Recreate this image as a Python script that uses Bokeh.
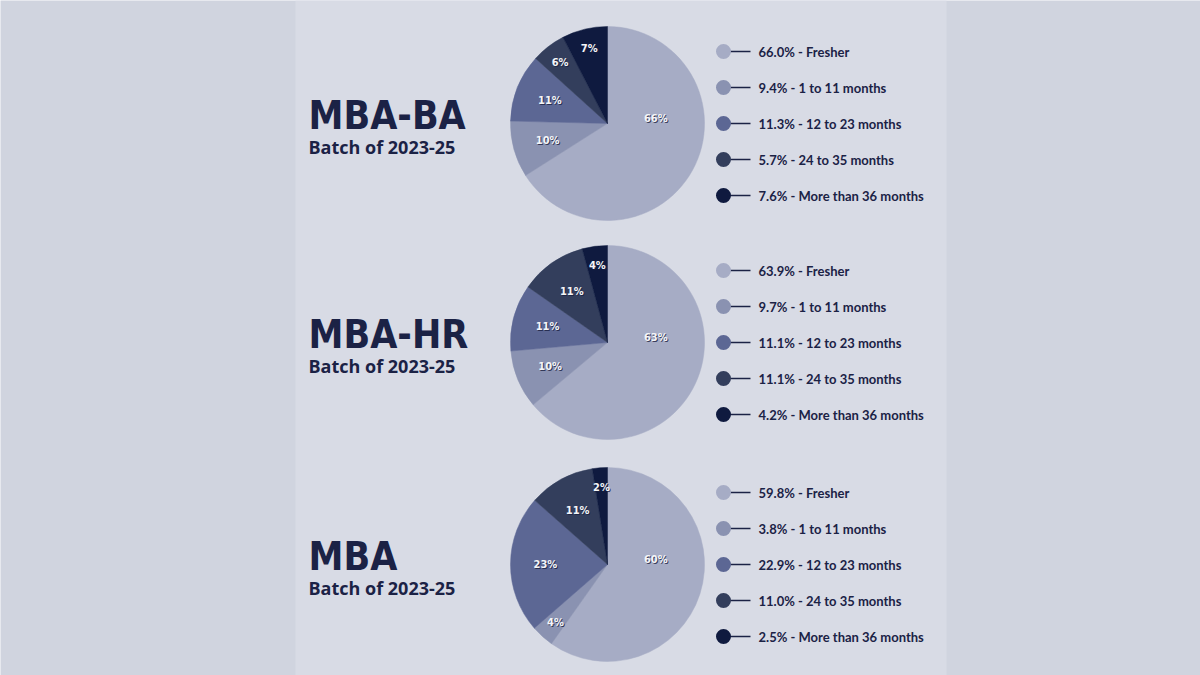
import math
from bokeh.plotting import figure
from bokeh.models import Range1d, ColumnDataSource
from bokeh.core.properties import value
from bokeh.embed import file_html
from bokeh.resources import INLINE

# ---------------- data ----------------
programs = ["MBA-BA", "MBA-HR", "MBA"]
subtitle = "Batch of 2023-25"
categories = ["Fresher", "1 to 11 months", "12 to 23 months", "24 to 35 months", "More than 36 months"]
mba_ba = [66.0, 9.4, 11.3, 5.7, 7.6]
mba_hr = [63.9, 9.7, 11.1, 11.1, 4.2]
mba = [59.8, 3.8, 22.9, 11.0, 2.5]
mba_ba_labels = ["66%", "10%", "11%", "6%", "7%"]
mba_hr_labels = ["63%", "10%", "11%", "11%", "4%"]
mba_labels = ["60%", "4%", "23%", "11%", "2%"]

series = [mba_ba, mba_hr, mba]
series_labels = [mba_ba_labels, mba_hr_labels, mba_labels]

# ---------------- style ----------------
slice_colors = ["#a6acc5", "#8a92b1", "#5c6794", "#333e5c", "#0f1a3f"]
ink = "#1b2245"
outer_bg = "#d0d4df"
panel_bg = "#d8dbe5"

W, H = 1200, 675
p = figure(width=W, height=H, output_backend="svg", toolbar_location=None,
           x_range=Range1d(0, W), y_range=Range1d(0, H),
           min_border=0, tools="")
p.axis.visible = False
p.grid.visible = False
p.outline_line_color = None
p.background_fill_color = outer_bg
p.border_fill_color = outer_bg


def Y(y_screen):
    # convert page y (downward) to data y (upward)
    return H - y_screen


# light central panel
p.quad(left=[295], right=[946], bottom=[Y(675)], top=[Y(0)],
       fill_color=panel_bg, line_color=None)

pie_cx = 607
pie_cys = [123, 342, 564]
R = 97

title_font = "DejaVu Sans Condensed"

for k, (vals, labs) in enumerate(zip(series, series_labels)):
    cy = pie_cys[k]
    total = sum(vals)
    fr = [v / total for v in vals]
    cum = [0.0]
    for f in fr:
        cum.append(cum[-1] + f)
    starts = [math.pi / 2 - 2 * math.pi * cum[i + 1] for i in range(len(fr))]
    ends = [math.pi / 2 - 2 * math.pi * cum[i] for i in range(len(fr))]
    src = ColumnDataSource(dict(x=[pie_cx] * len(fr), y=[Y(cy)] * len(fr),
                                s=starts, e=ends, c=slice_colors))
    p.wedge(x="x", y="y", radius=R, start_angle="s", end_angle="e",
            fill_color="c", line_color="c", line_width=0.5, source=src)

    # in-slice labels
    lx, ly = [], []
    for i, f in enumerate(fr):
        mid = math.pi / 2 - 2 * math.pi * (cum[i] + f / 2)
        if f > 0.5:
            ang, rr = math.radians(6), 0.5 * R
        elif f < 0.08:
            ang, rr = mid, 0.8 * R
        else:
            ang, rr = mid, 0.64 * R
        lx.append(pie_cx + rr * math.cos(ang))
        ly.append(Y(cy) + rr * math.sin(ang))
    p.text(x=lx, y=ly, text=labs, text_color="#1a2040", text_alpha=0.8,
           x_offset=1, y_offset=1,
           text_font=value(title_font), text_font_style="bold",
           text_font_size="11px", text_align="center", text_baseline="middle")
    p.text(x=lx, y=ly, text=labs, text_color="#f4f5f8",
           text_font=value(title_font), text_font_style="bold",
           text_font_size="11px", text_align="center", text_baseline="middle")

    # titles
    p.text(x=[308], y=[Y(cy - 8)], text=[programs[k]], text_color=ink,
           text_font=value(title_font), text_font_style="bold",
           text_font_size="39px", text_align="left", text_baseline="middle")
    p.text(x=[308], y=[Y(cy + 23)], text=[subtitle], text_color=ink,
           text_font=value("Open Sans"), text_font_style="bold",
           text_font_size="18px", text_align="left", text_baseline="middle")

    # legend
    rows = [Y(cy - 72 + 36 * i) for i in range(len(vals))]
    for i in range(len(vals)):
        p.line(x=[723, 750], y=[rows[i], rows[i]], line_color=ink, line_width=1.5)
    p.scatter(x=[723] * len(vals), y=rows, size=15, marker="circle",
              fill_color=slice_colors, line_color=None)
    texts = ["{:.1f}% - {}".format(v, c) for v, c in zip(vals, categories)]
    p.text(x=[758] * len(vals), y=rows, text=texts, text_color=ink,
           text_font=value("Lato"), text_font_style="bold", text_font_size="13px",
           text_align="left", text_baseline="middle")

open("out.html", "w").write(file_html(p, INLINE))
